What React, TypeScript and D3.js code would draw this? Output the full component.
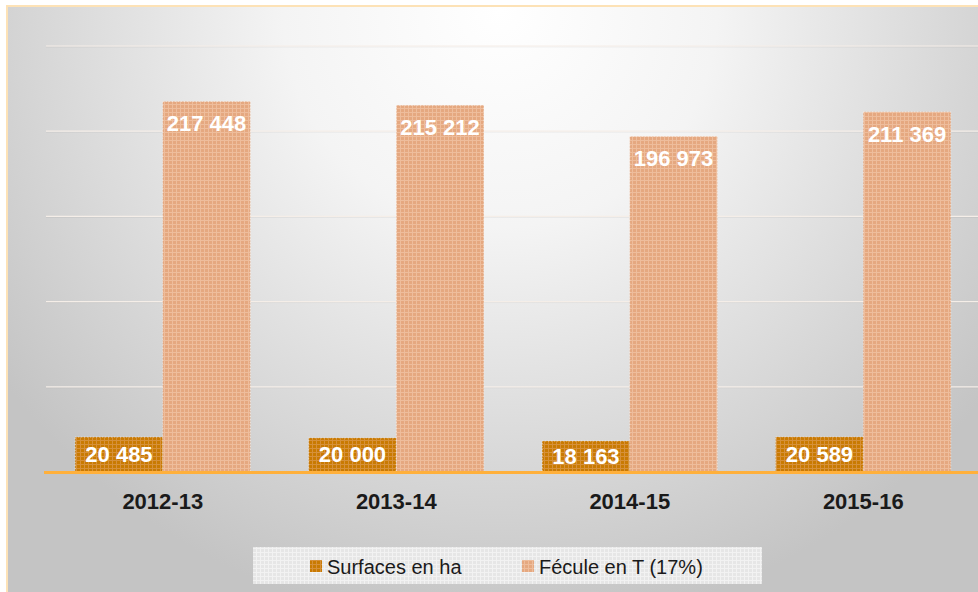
import React from "react";
import * as d3 from "d3";

const categories = ["2012-13", "2013-14", "2014-15", "2015-16"];
const seriesNames = ["Surfaces en ha", "Fécule en T (17%)"];
const surfaces = [20485, 20000, 18163, 20589];
const fecule = [217448, 215212, 196973, 211369];
const gridTicks = [50000, 100000, 150000, 200000, 250000];

const W = 978;
const H = 592;
const FONT = "'Liberation Sans', Arial, sans-serif";

const fmt = (v: number) => {
  const s = String(v);
  return s.replace(/\B(?=(\d{3})+(?!\d))/g, " ");
};

export default function App() {
  const x0 = d3
    .scaleBand<string>()
    .domain(categories)
    .range([46, 980])
    .paddingInner(0.25)
    .paddingOuter(0.125);
  const x1 = d3.scaleBand<string>().domain(seriesNames).range([0, x0.bandwidth()]).padding(0);
  const y = d3.scaleLinear().domain([0, 250000]).range([472, 46]);

  const series = [
    { name: seriesNames[0], values: surfaces, fill: "url(#patS)" },
    { name: seriesNames[1], values: fecule, fill: "url(#patF)" },
  ];

  return (
    <svg
      width={W}
      height={H}
      style={{ position: "absolute", left: 0, top: 0, fontFamily: FONT }}
    >
      <defs>
        <radialGradient id="bg" cx="500" cy="10" r="620" gradientUnits="userSpaceOnUse">
          <stop offset="0" stopColor="#ffffff" />
          <stop offset="0.35" stopColor="#f4f4f4" />
          <stop offset="1" stopColor="#c4c4c4" />
        </radialGradient>
        <pattern id="patS" width="4" height="4" patternUnits="userSpaceOnUse">
          <rect width="4" height="4" fill="#c97a02" />
          <rect x="0" y="0" width="4" height="1" fill="#d6913a" />
          <rect x="0" y="0" width="1" height="4" fill="#d6913a" />
        </pattern>
        <pattern id="patF" width="4" height="4" patternUnits="userSpaceOnUse">
          <rect width="4" height="4" fill="#e5a880" />
          <rect x="0" y="0" width="4" height="1" fill="#eebd9c" />
          <rect x="0" y="0" width="1" height="4" fill="#eebd9c" />
        </pattern>
        <pattern id="patL" width="4" height="4" patternUnits="userSpaceOnUse">
          <rect width="4" height="4" fill="#e6e6e6" />
          <rect x="0" y="0" width="4" height="1" fill="#f2f2f2" />
          <rect x="0" y="0" width="1" height="4" fill="#f2f2f2" />
        </pattern>
      </defs>

      <rect x={0} y={0} width={W} height={H} fill="#ffffff" />
      <rect x={7} y={6} width={W} height={H} fill="url(#bg)" stroke="#fde2b6" strokeWidth={2} />

      {gridTicks.map((t) => (
        <g key={t}>
          <line x1={46} x2={W} y1={y(t) + 1} y2={y(t) + 1} stroke="#000" strokeOpacity={0.05} strokeWidth={1} />
          <line x1={46} x2={W} y1={y(t)} y2={y(t)} stroke="#f5eee8" strokeWidth={1.2} />
        </g>
      ))}

      {series.map((s) =>
        s.values.map((v, i) => {
          const bx = (x0(categories[i]) ?? 0) + (x1(s.name) ?? 0);
          const bw = x1.bandwidth();
          return (
            <rect
              key={s.name + i}
              x={bx}
              y={y(v)}
              width={bw}
              height={y(0) - y(v)}
              fill={s.fill}
              stroke="#ffffff"
              strokeOpacity={0.6}
              strokeWidth={1}
              strokeDasharray="1 2"
            />
          );
        })
      )}

      <line x1={44} x2={W} y1={472.5} y2={472.5} stroke="#ffb03b" strokeWidth={3} />

      {series.map((s, si) =>
        s.values.map((v, i) => {
          const bx = (x0(categories[i]) ?? 0) + (x1(s.name) ?? 0);
          const bw = x1.bandwidth();
          const ty = si === 0 ? (y(v) + y(0)) / 2 + 7.5 : y(v) + 30;
          return (
            <text
              key={"l" + s.name + i}
              x={bx + bw / 2}
              y={ty}
              textAnchor="middle"
              fill="#ffffff"
              fontWeight="bold"
              fontSize={22}
            >
              {fmt(v)}
            </text>
          );
        })
      )}

      {categories.map((c) => (
        <text
          key={c}
          x={(x0(c) ?? 0) + x0.bandwidth() / 2}
          y={509}
          textAnchor="middle"
          fontWeight="bold"
          fontSize={22}
          fill="#1a1a1a"
        >
          {c}
        </text>
      ))}

      <rect x={253} y={547} width={509} height={37} fill="url(#patL)" />
      <rect x={310} y={560} width={12} height={12} fill="url(#patS)" />
      <text x={327} y={574} fontSize={20} fill="#1a1a1a">
        {seriesNames[0]}
      </text>
      <rect x={522} y={560} width={12} height={12} fill="url(#patF)" />
      <text x={539} y={574} fontSize={20} fill="#1a1a1a">
        {seriesNames[1]}
      </text>
    </svg>
  );
}
